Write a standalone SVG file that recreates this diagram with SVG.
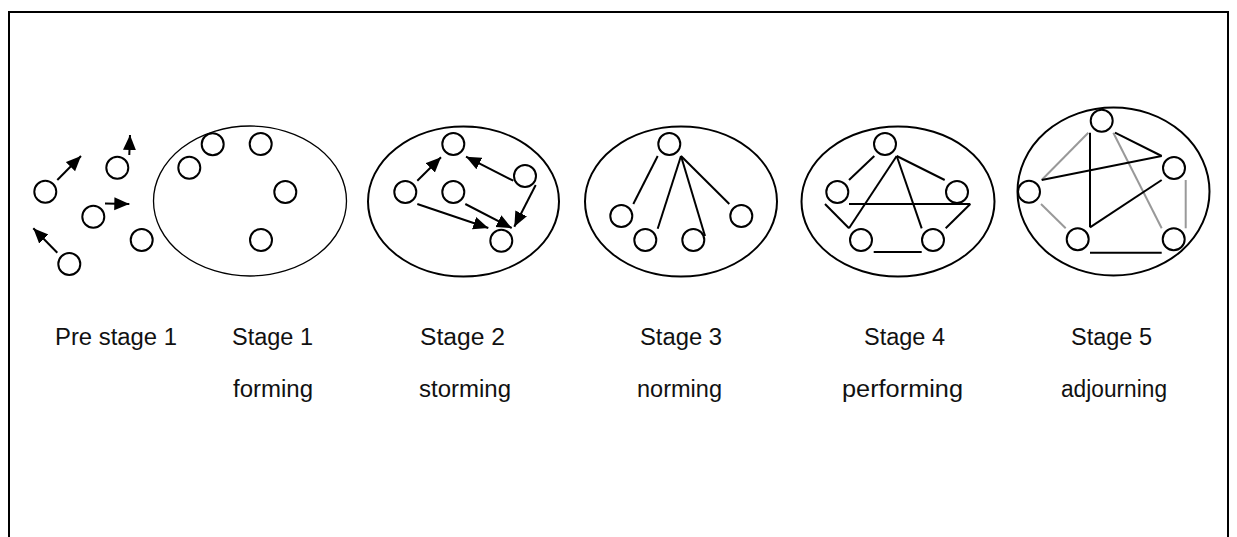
<svg xmlns="http://www.w3.org/2000/svg" width="1237" height="537" viewBox="0 0 1237 537">
<style>
.frame{fill:none;stroke:#000;stroke-width:2}
.stage{fill:none;stroke:#000;stroke-width:2}
.thin{stroke-width:1.3}
.node{fill:#fff;stroke:#000;stroke-width:2}
.ln{stroke:#000;stroke-width:2;fill:none}
.gr{stroke:#999;stroke-width:2;fill:none}
.arr{marker-end:url(#ah)}
text{font-family:"Liberation Sans",Arial,sans-serif;font-size:23px;fill:#111}
</style>
<defs>
<marker id="ah" markerUnits="userSpaceOnUse" markerWidth="16" markerHeight="14" refX="15" refY="6.5" orient="auto">
<path d="M0,0 L15,6.5 L0,13 Z" fill="#000"/>
</marker>
</defs>
<rect class="frame" x="9" y="12" width="1219" height="540"/>
<g id="stage1"><ellipse class="stage thin" cx="250" cy="201" rx="96.5" ry="75"/></g>
<g id="stage2"><ellipse class="stage" cx="463.5" cy="201.5" rx="95.5" ry="75"/></g>
<g id="stage3"><ellipse class="stage" cx="681" cy="201.5" rx="96" ry="75"/></g>
<g id="stage4"><ellipse class="stage" cx="898" cy="201.5" rx="96.5" ry="75"/></g>
<g id="stage5"><ellipse class="stage" cx="1113.5" cy="191.5" rx="96" ry="84"/></g>
<g id="connectors">
<line class="ln arr" x1="57.3" y1="180" x2="81" y2="156"/>
<line class="ln arr" x1="129.3" y1="155" x2="130" y2="135"/>
<line class="ln arr" x1="105" y1="203.5" x2="129.3" y2="204"/>
<line class="ln arr" x1="57.3" y1="252.7" x2="33.3" y2="228.3"/>
<line class="ln arr" x1="417.3" y1="180.7" x2="441" y2="157.3"/>
<line class="ln arr" x1="513.3" y1="180.7" x2="466" y2="156.7"/>
<line class="ln arr" x1="535.7" y1="185" x2="514.3" y2="226.7"/>
<line class="ln arr" x1="417.3" y1="204" x2="488.3" y2="228"/>
<line class="ln arr" x1="465.3" y1="204" x2="511.7" y2="228"/>
<line class="ln" x1="657.7" y1="156" x2="633.3" y2="204"/>
<line class="ln" x1="681" y1="156" x2="657.7" y2="228.7"/>
<line class="ln" x1="681" y1="156" x2="705" y2="236"/>
<line class="ln" x1="681" y1="156" x2="729.3" y2="204"/>
<line class="ln" x1="849" y1="180" x2="874.3" y2="156"/>
<line class="ln" x1="896.7" y1="156" x2="944.7" y2="180"/>
<line class="ln" x1="896.7" y1="156" x2="849" y2="228.3"/>
<line class="ln" x1="896.7" y1="156" x2="921.7" y2="228.3"/>
<line class="ln" x1="849" y1="204" x2="970.3" y2="204"/>
<line class="ln" x1="825" y1="204" x2="849" y2="228.3"/>
<line class="ln" x1="970.3" y1="204" x2="945.7" y2="228.3"/>
<line class="ln" x1="873.7" y1="252" x2="921.7" y2="252"/>
<line class="gr" x1="1088.3" y1="132.7" x2="1041.7" y2="180"/>
<line class="gr" x1="1113.3" y1="132.7" x2="1161.7" y2="228.3"/>
<line class="gr" x1="1041" y1="204" x2="1065.7" y2="228.3"/>
<line class="gr" x1="1185.7" y1="180" x2="1185.7" y2="228.3"/>
<line class="ln" x1="1115" y1="132.7" x2="1161.7" y2="156"/>
<line class="ln" x1="1041.7" y1="180" x2="1161.7" y2="156"/>
<line class="ln" x1="1090" y1="132.7" x2="1090" y2="227.3"/>
<line class="ln" x1="1090" y1="227.3" x2="1161.7" y2="180"/>
<line class="ln" x1="1090" y1="252.7" x2="1161.7" y2="252.7"/>
</g>
<g id="p1"><circle class="node" cx="45.3" cy="191.7" r="11"/></g>
<g id="p2"><circle class="node" cx="117.3" cy="167.7" r="11"/></g>
<g id="p3"><circle class="node" cx="93.3" cy="216.7" r="11"/></g>
<g id="p4"><circle class="node" cx="141.7" cy="240" r="11"/></g>
<g id="p5"><circle class="node" cx="69.3" cy="264" r="11"/></g>
<g id="f1"><circle class="node" cx="212.7" cy="144.3" r="11"/></g>
<g id="f2"><circle class="node" cx="260.7" cy="144" r="11"/></g>
<g id="f3"><circle class="node" cx="189.3" cy="167.7" r="11"/></g>
<g id="f4"><circle class="node" cx="285.3" cy="192" r="11"/></g>
<g id="f5"><circle class="node" cx="261" cy="240" r="11"/></g>
<g id="s1"><circle class="node" cx="453.3" cy="144" r="11"/></g>
<g id="s2"><circle class="node" cx="405.3" cy="192" r="11"/></g>
<g id="s3"><circle class="node" cx="453.3" cy="192" r="11"/></g>
<g id="s4"><circle class="node" cx="525" cy="176" r="11"/></g>
<g id="s5"><circle class="node" cx="501.3" cy="240.7" r="11"/></g>
<g id="n1"><circle class="node" cx="669.3" cy="144" r="11"/></g>
<g id="n2"><circle class="node" cx="621.3" cy="216" r="11"/></g>
<g id="n3"><circle class="node" cx="645.3" cy="240" r="11"/></g>
<g id="n4"><circle class="node" cx="693.3" cy="240" r="11"/></g>
<g id="n5"><circle class="node" cx="741.3" cy="216" r="11"/></g>
<g id="q1"><circle class="node" cx="885" cy="144" r="11"/></g>
<g id="q2"><circle class="node" cx="837.3" cy="192" r="11"/></g>
<g id="q3"><circle class="node" cx="957" cy="192" r="11"/></g>
<g id="q4"><circle class="node" cx="861" cy="240" r="11"/></g>
<g id="q5"><circle class="node" cx="933" cy="240" r="11"/></g>
<g id="a1"><circle class="node" cx="1101.7" cy="120.7" r="11"/></g>
<g id="a2"><circle class="node" cx="1029" cy="191.7" r="11"/></g>
<g id="a3"><circle class="node" cx="1174" cy="168" r="11"/></g>
<g id="a4"><circle class="node" cx="1077.7" cy="239.3" r="11"/></g>
<g id="a5"><circle class="node" cx="1173.7" cy="239.3" r="11"/></g>
<g id="labels">
<text x="55" y="345" textLength="122" lengthAdjust="spacingAndGlyphs">Pre stage 1</text>
<text x="232" y="345" textLength="81" lengthAdjust="spacingAndGlyphs">Stage 1</text>
<text x="233" y="397" textLength="80" lengthAdjust="spacingAndGlyphs">forming</text>
<text x="420" y="345" textLength="85" lengthAdjust="spacingAndGlyphs">Stage 2</text>
<text x="419" y="397" textLength="92" lengthAdjust="spacingAndGlyphs">storming</text>
<text x="640" y="345" textLength="82" lengthAdjust="spacingAndGlyphs">Stage 3</text>
<text x="637" y="397" textLength="85" lengthAdjust="spacingAndGlyphs">norming</text>
<text x="864" y="345" textLength="81" lengthAdjust="spacingAndGlyphs">Stage 4</text>
<text x="842" y="397" textLength="121" lengthAdjust="spacingAndGlyphs">performing</text>
<text x="1071" y="345" textLength="81" lengthAdjust="spacingAndGlyphs">Stage 5</text>
<text x="1061" y="397" textLength="106" lengthAdjust="spacingAndGlyphs">adjourning</text>
</g>
</svg>
